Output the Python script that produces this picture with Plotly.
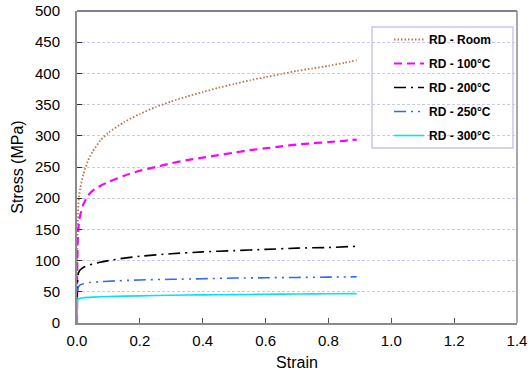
import plotly.graph_objects as go

strain_room = [0.0, 0.001, 0.003, 0.006, 0.01, 0.02, 0.035, 0.05, 0.075, 0.1, 0.15, 0.2, 0.25, 0.3, 0.35, 0.4, 0.45, 0.5, 0.55, 0.6, 0.65, 0.7, 0.75, 0.8, 0.85, 0.89]
stress_room = [0, 120, 175, 200, 215, 238, 260, 275, 293, 305, 322, 335, 346, 355, 363, 370, 377, 383, 389, 394, 399, 404, 408, 412, 417, 421]

strain_100 = [0.0, 0.001, 0.003, 0.006, 0.01, 0.02, 0.035, 0.05, 0.075, 0.1, 0.15, 0.2, 0.25, 0.3, 0.35, 0.4, 0.45, 0.5, 0.55, 0.6, 0.65, 0.7, 0.75, 0.8, 0.85, 0.89]
stress_100 = [0, 100, 140, 160, 172, 190, 204, 212, 220, 226, 236, 244, 250, 256, 261, 265, 269, 273, 277, 280, 283, 286, 288, 290, 292, 294]

strain_200 = [0.0, 0.001, 0.003, 0.006, 0.01, 0.02, 0.04, 0.07, 0.1, 0.15, 0.2, 0.3, 0.4, 0.5, 0.6, 0.7, 0.8, 0.89]
stress_200 = [0, 60, 76, 82, 85, 89, 93, 97, 100, 104, 107, 111, 114, 116, 118, 120, 121, 123]

strain_250 = [0.0, 0.001, 0.003, 0.006, 0.01, 0.02, 0.04, 0.07, 0.1, 0.2, 0.3, 0.4, 0.5, 0.6, 0.7, 0.8, 0.89]
stress_250 = [0, 45, 55, 59, 61, 63, 65, 66, 67, 69, 70, 71, 72, 72.5, 73, 73.5, 74]

strain_300 = [0.0, 0.001, 0.002, 0.004, 0.01, 0.02, 0.05, 0.1, 0.2, 0.3, 0.4, 0.5, 0.6, 0.7, 0.8, 0.89]
stress_300 = [0, 30, 36, 38, 39.5, 40.5, 41.5, 42.5, 43.5, 44.5, 45, 45.5, 46, 46.5, 46.8, 47]

x_ticks = [0, 0.2, 0.4, 0.6, 0.8, 1.0, 1.2, 1.4]
x_tick_labels = ["0.0", "0.2", "0.4", "0.6", "0.8", "1.0", "1.2", "1.4"]
y_ticks = [0, 50, 100, 150, 200, 250, 300, 350, 400, 450, 500]

series = [
    ("RD - Room", strain_room, stress_room, "#c0704a", "1.5px,2px", 1.8),
    ("RD - 100°C", strain_100, stress_100, "#ff00ff", "8px,5px", 2.2),
    ("RD - 200°C", strain_200, stress_200, "#000000", "12px,5px,2px,5px", 1.6),
    ("RD - 250°C", strain_250, stress_250, "#3366ff", "12px,5px,2px,5px,2px,5px", 1.6),
    ("RD - 300°C", strain_300, stress_300, "#00e5ee", "solid", 1.6),
]

fig = go.Figure()
for i, (name, x, y, color, dash, w) in enumerate(series):
    fig.add_trace(go.Scatter(x=x, y=y, mode="lines", name=name, legendgroup=str(i),
                             line=dict(color=color, dash=dash, width=w, shape="spline", smoothing=0.6)))

W, H = 528, 372
L, R, T, B = 77, 517, 11, 323
font = "Liberation Sans, Arial, sans-serif"

def px_x(p):
    return (p - L) / (R - L)

def px_y(p):
    return (B - p) / (B - T)

fig.update_layout(
    width=W, height=H,
    margin=dict(l=L, r=W - R, t=T, b=H - B, autoexpand=False),
    paper_bgcolor="white", plot_bgcolor="white",
    font=dict(family=font, size=15, color="black"),
    showlegend=True,
    legend=dict(x=px_x(389), y=px_y(25), xanchor="left", yanchor="top",
                bgcolor="rgba(0,0,0,0)", borderwidth=0,
                font=dict(family=font, size=12, color="black", weight="bold"),
                itemwidth=30, tracegroupgap=5, traceorder="grouped"),
    xaxis=dict(range=[0, 1.4], tickvals=x_ticks, ticktext=x_tick_labels,
               ticks="inside", ticklen=5, tickcolor="#555555",
               showline=True, linecolor="#8a8a8a", linewidth=2, mirror=False,
               showgrid=False, zeroline=False, automargin=False, ticklabelstandoff=3,
               title=dict(text="Strain", font=dict(size=16), standoff=9)),
    yaxis=dict(range=[0, 500], tickvals=y_ticks, ticks="inside", ticklen=5, tickcolor="#333333",
               showline=True, linecolor="#8a8a8a", linewidth=2, mirror=False,
               showgrid=True, gridcolor="#c8c8ee", griddash="3px,2px", gridwidth=1,
               zeroline=False, ticklabelstandoff=12, automargin=False,
               title=dict(text="Stress (MPa)", font=dict(size=16), standoff=7)),
    shapes=[
        dict(type="line", xref="paper", yref="paper", x0=0, x1=1, y0=1, y1=1,
             line=dict(color="#55556a", width=1.5)),
        dict(type="line", xref="paper", yref="paper", x0=1, x1=1, y0=0, y1=1,
             line=dict(color="#8a8a8a", width=1.5)),
        dict(type="rect", xref="paper", yref="paper",
             x0=px_x(372), x1=px_x(513), y0=px_y(148), y1=px_y(27),
             fillcolor="white", line=dict(color="#c8c8f0", width=1.5), layer="below"),
    ],
)

fig.write_html("out.html", config={"displayModeBar": False},
               post_script="document.body.style.margin='0';document.body.style.overflow='hidden';")
